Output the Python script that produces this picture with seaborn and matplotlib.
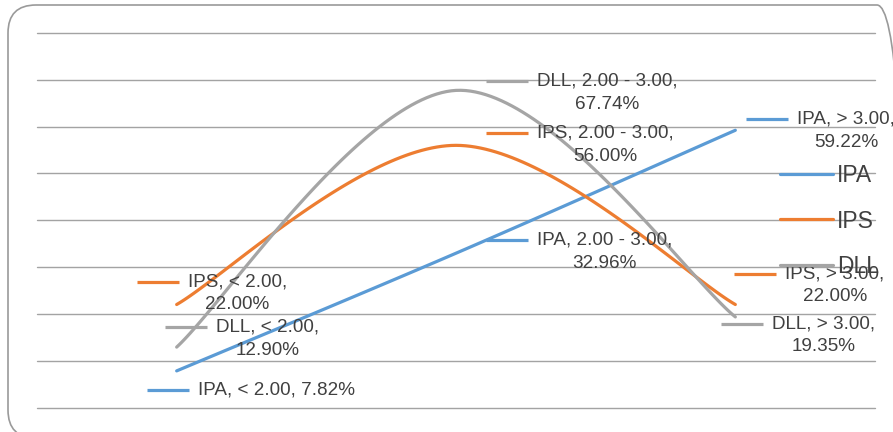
import numpy as np
import pandas as pd
import matplotlib
matplotlib.use("Agg")
import matplotlib.pyplot as plt
import matplotlib.transforms as mtransforms
from matplotlib.lines import Line2D
from matplotlib.patches import FancyBboxPatch
import seaborn as sns

# ---- data -------------------------------------------------------------
categories = ["< 2.00", "2.00 - 3.00", "> 3.00"]
series_names = ["IPA", "IPS", "DLL"]
ipa = [7.82, 32.96, 59.22]
ips = [22.00, 56.00, 22.00]
dll = [12.90, 67.74, 19.35]
y_ticks = [0, 10, 20, 30, 40, 50, 60, 70, 80]

colors = {"IPA": "#5B9BD5", "IPS": "#ED7D31", "DLL": "#A5A5A5"}
text_color = "#404040"


def smooth(values, steps=60):
    """Bezier smoothing through the points (spreadsheet-style smoothed line)."""
    pts = np.array([[i, v] for i, v in enumerate(values)], dtype=float)
    n = len(pts)
    out = []
    for i in range(n - 1):
        p_prev = pts[max(i - 1, 0)]
        p0, p1 = pts[i], pts[i + 1]
        p_next = pts[min(i + 2, n - 1)]
        c1 = p0 + (p1 - p_prev) / 6.0
        c2 = p1 - (p_next - p0) / 6.0
        t = np.linspace(0, 1, steps, endpoint=(i == n - 2))[:, None]
        seg = ((1 - t) ** 3) * p0 + 3 * ((1 - t) ** 2) * t * c1 + 3 * (1 - t) * t ** 2 * c2 + t ** 3 * p1
        out.append(seg)
    return np.vstack(out)


values = {"IPA": ipa, "IPS": ips, "DLL": dll}
frames = []
for name in series_names:
    curve = smooth(values[name])
    frames.append(pd.DataFrame({"x": curve[:, 0], "y": curve[:, 1], "series": name}))
df = pd.concat(frames, ignore_index=True)

# ---- figure -----------------------------------------------------------
sns.set_theme(style="white")
plt.rcParams["font.family"] = ["Liberation Sans", "DejaVu Sans"]

W, H = 893, 432
fig = plt.figure(figsize=(W / 100, H / 100), dpi=100)
ax = fig.add_axes([37 / W, (H - 407.5) / H, 838 / W, 374.5 / H])

# rounded chart-area border (drawn in pixel units)
border = FancyBboxPatch((8, -6), W + 4, H + 6 - 5,
                        boxstyle="round,pad=0,rounding_size=28",
                        transform=mtransforms.IdentityTransform(), facecolor="none",
                        edgecolor="#9a9a9a", linewidth=1.2, clip_on=False)
fig.patches.append(border)

sns.lineplot(data=df, x="x", y="y", hue="series", hue_order=series_names,
             palette=colors, sort=False, estimator=None, linewidth=2.3,
             ax=ax, legend=False, zorder=3)

ax.set_xlim(-0.5, 2.5)
ax.set_ylim(0, 80)
ax.set_yticks(y_ticks)
ax.set_yticklabels([])
ax.set_xticks([])
ax.set_xlabel("")
ax.set_ylabel("")
ax.tick_params(length=0)
ax.yaxis.grid(True, color="#a3a3a3", linewidth=1.0)
ax.set_axisbelow(True)
for gl in ax.get_ygridlines():
    gl.set_clip_on(False)
for s in ax.spines.values():
    s.set_visible(False)

# ---- data labels with legend keys ------------------------------------
# (series, category index) -> text left offset, first-line centre offset (pixels, down positive)
label_offsets = {
    ("IPS", 0): (11, -23),
    ("DLL", 0): (39, -20),
    ("IPA", 0): (21, 19),
    ("DLL", 1): (81, -9),
    ("IPS", 1): (81, -12),
    ("IPA", 1): (81, -13),
    ("IPA", 2): (62, -11),
    ("IPS", 2): (50, -31),
    ("DLL", 2): (37, 7),
}
single_line = {("IPA", 0)}
label_size = 13.6
line_gap = 23

fig.canvas.draw()
for name in series_names:
    for i, cat in enumerate(categories):
        v = values[name][i]
        dx, dy = label_offsets[(name, i)]
        if (name, i) in single_line:
            txt = f"{name}, {cat}, {v:.2f}%"
            cy = dy
        else:
            txt = f"{name}, {cat},\n{v:.2f}%"
            cy = dy + line_gap / 2
        ax.annotate(txt, xy=(i, v), xytext=(dx, -cy), textcoords="offset pixels",
                    ha="left", va="center", multialignment="center",
                    fontsize=label_size, color=text_color, zorder=5,
                    linespacing=1.45)
        px, py = ax.transData.transform((i, v))
        key_tr = mtransforms.Affine2D().translate(px, py)
        ax.add_line(Line2D([dx - 51, dx - 9], [-dy, -dy], transform=key_tr,
                           color=colors[name], linewidth=2.3, zorder=4,
                           solid_capstyle="butt"))

# ---- legend -----------------------------------------------------------
handles = [Line2D([], [], color=colors[n], linewidth=2.3) for n in series_names]
leg = fig.legend(handles, series_names, loc="center left",
                 bbox_to_anchor=(780 / W, 1 - 221 / H), bbox_transform=fig.transFigure,
                 frameon=False, fontsize=16.5, handlelength=2.3, handletextpad=0.2,
                 labelspacing=1.0, borderpad=0, borderaxespad=0)
for t in leg.get_texts():
    t.set_color(text_color)

fig.savefig("out.png", dpi=100)
